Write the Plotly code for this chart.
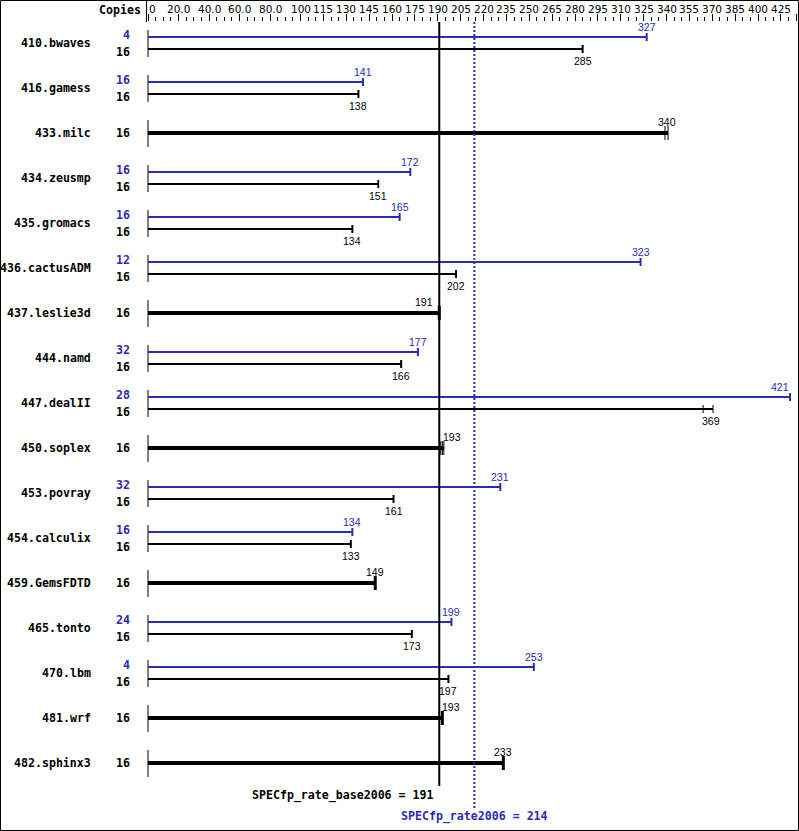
import plotly.graph_objects as go

# ---------------- data ----------------
benchmarks = ["410.bwaves", "416.gamess", "433.milc", "434.zeusmp", "435.gromacs",
              "436.cactusADM", "437.leslie3d", "444.namd", "447.dealII", "450.soplex",
              "453.povray", "454.calculix", "459.GemsFDTD", "465.tonto", "470.lbm",
              "481.wrf", "482.sphinx3"]
base_copies = [16, 16, 16, 16, 16, 16, 16, 16, 16, 16, 16, 16, 16, 16, 16, 16, 16]
base_values = [285, 138, 340, 151, 134, 202, 191, 166, 369, 193, 161, 133, 149, 173, 197, 193, 233]
peak_copies = [4, 16, None, 16, 16, 12, None, 32, 28, None, 32, 16, None, 24, 4, None, None]
peak_values = [327, 141, None, 172, 165, 323, None, 177, 421, None, 231, 134, None, 199, 253, None, None]
# individual run marks where the runs are visibly spread
base_runs = {"433.milc": [339, 341], "447.dealII": [364, 370.5], "450.soplex": [192, 193, 194]}

base_mean = 191
peak_mean = 214
base_mean_label = "SPECfp_rate_base2006 = 191"
peak_mean_label = "SPECfp_rate2006 = 214"

tick_values = [0, 20, 40, 60, 80, 100, 115, 130, 145, 160, 175, 190, 205, 220, 235, 250,
               265, 280, 295, 310, 325, 340, 355, 370, 385, 400, 425]
tick_labels = ["0", "20.0", "40.0", "60.0", "80.0", "100", "115", "130", "145", "160", "175",
               "190", "205", "220", "235", "250", "265", "280", "295", "310", "325", "340",
               "355", "370", "385", "400", "425"]
major_ticks = tick_values[:-1] + [415, 425]
minor_ticks = list(range(0, 426, 5))

# ---------------- style ----------------
BLUE = "#2b2bb3"
BLACK = "#000000"
W, H = 799, 831
ML, MR, MT, MB = 140, 2, 22, 0
PXU = 1.525            # pixels per score unit
X0PX = 148             # pixel of score 0
ROWPX = 45.0           # pixels per benchmark row
ROW0PX = 43            # pixel of first row centre
plot_h = H - MT - MB
xr0 = -(X0PX - ML) / PXU
xr1 = xr0 + (W - ML - MR) / PXU
ytop = -(ROW0PX - MT) / ROWPX
ybot = ytop + plot_h / ROWPX


def off(px):
    return px / ROWPX


MONO = "DejaVu Sans Mono"
SANS = "Liberation Sans"
label_align = {"437.leslie3d": ("right", -4), "450.soplex": ("left", -1),
               "481.wrf": ("left", -2)}

fig = go.Figure()
ann = []

px_, py_ = [], []
bx_, by_ = [], []
tx_, ty_ = [], []
wpx, wpy = [], []
wbx, wby = [], []
wtx, wty = [], []
mbx, mby = [], []
lx, ly = [], []

for i, name in enumerate(benchmarks):
    pv = peak_values[i]
    bv = base_values[i]
    runs = base_runs.get(name, [bv])
    bend = max([bv] + runs)
    multi = len(runs) > 1
    if pv is not None:
        yp = i - off(6)
        yb = i + off(6)
        px_ += [0, pv, None]; py_ += [yp, yp, None]
        wpx += [pv, pv, None]; wpy += [yp - off(4), yp + off(4), None]
        bx_ += [0, bend, None]; by_ += [yb, yb, None]
        for r in runs:
            if multi:
                mbx += [r, r, None]; mby += [yb - off(4), yb + off(4), None]
            else:
                wbx += [r, r, None]; wby += [yb - off(4), yb + off(4), None]
        lx += [0, 0, None]; ly += [i - off(13), i + off(14), None]
        ann.append(dict(x=0, xref="paper", y=i, yref="y", text=name, showarrow=False,
                        xanchor="right", yanchor="middle", xshift=93 - ML,
                        font=dict(family=MONO, size=11.6, color=BLACK, weight="bold")))
        ann.append(dict(x=0, xref="paper", y=i - off(8), yref="y", text=str(peak_copies[i]),
                        showarrow=False, xanchor="right", yanchor="middle", xshift=132 - ML,
                        font=dict(family=MONO, size=11.6, color=BLUE, weight="bold")))
        ann.append(dict(x=0, xref="paper", y=i + off(9), yref="y", text=str(base_copies[i]),
                        showarrow=False, xanchor="right", yanchor="middle", xshift=132 - ML,
                        font=dict(family=MONO, size=11.6, color=BLACK, weight="bold")))
        pa, ps = ("center", 0)
        if name == "447.dealII":
            pa, ps = ("right", 1)
        ann.append(dict(x=pv, xref="x", y=yp - off(10), yref="y", text=str(pv), showarrow=False,
                        xanchor=pa, yanchor="middle", xshift=ps,
                        font=dict(family=SANS, size=10.5, color=BLUE)))
        ann.append(dict(x=bv, xref="x", y=yb + off(12), yref="y", text=str(bv), showarrow=False,
                        xanchor="center", yanchor="middle",
                        font=dict(family=SANS, size=10.5, color=BLACK)))
    else:
        tx_ += [0, bend, None]; ty_ += [i, i, None]
        for r in runs:
            if multi:
                mbx += [r, r, None]; mby += [i - off(7), i + off(7), None]
            else:
                wtx += [r, r, None]; wty += [i - off(7), i + off(7), None]
        lx += [0, 0, None]; ly += [i - off(13), i + off(14), None]
        ann.append(dict(x=0, xref="paper", y=i, yref="y", text=name, showarrow=False,
                        xanchor="right", yanchor="middle", xshift=93 - ML,
                        font=dict(family=MONO, size=11.6, color=BLACK, weight="bold")))
        ann.append(dict(x=0, xref="paper", y=i, yref="y", text=str(base_copies[i]),
                        showarrow=False, xanchor="right", yanchor="middle", xshift=132 - ML,
                        font=dict(family=MONO, size=11.6, color=BLACK, weight="bold")))
        a, s = label_align.get(name, ("center", 0))
        ann.append(dict(x=bv, xref="x", y=i - off(11), yref="y", text=str(bv), showarrow=False,
                        xanchor=a, yanchor="middle", xshift=s,
                        font=dict(family=SANS, size=10.5, color=BLACK)))

line_traces = [
    (lx, ly, BLACK, 1),
    (px_, py_, BLUE, 2), (wpx, wpy, BLUE, 2),
    (bx_, by_, BLACK, 2), (wbx, wby, BLACK, 2),
    (tx_, ty_, BLACK, 4), (wtx, wty, BLACK, 3),
    (mbx, mby, BLACK, 1),
]
for xs, ys, c, w in line_traces:
    fig.add_trace(go.Scatter(x=xs, y=ys, mode="lines", line=dict(color=c, width=w),
                             hoverinfo="skip", showlegend=False))

# mean lines
fig.add_trace(go.Scatter(x=[peak_mean, peak_mean], y=[ytop, off(808 - ROW0PX)], mode="lines",
                         line=dict(color=BLUE, width=2, dash="2px,2px"),
                         hoverinfo="skip", showlegend=False))
fig.add_trace(go.Scatter(x=[base_mean, base_mean], y=[ytop, off(786 - ROW0PX)], mode="lines",
                         line=dict(color=BLACK, width=2), hoverinfo="skip", showlegend=False))
# minor tick axis carrier
fig.add_trace(go.Scatter(x=[0], y=[0], xaxis="x2", mode="markers", marker=dict(opacity=0),
                         hoverinfo="skip", showlegend=False))

ann.append(dict(x=base_mean, xref="x", y=off(795 - ROW0PX), yref="y", text=base_mean_label,
                showarrow=False, xanchor="right", yanchor="middle", xshift=-3,
                font=dict(family=MONO, size=11.6, color=BLACK, weight="bold")))
ann.append(dict(x=peak_mean, xref="x", y=off(816 - ROW0PX), yref="y", text=peak_mean_label,
                showarrow=False, xanchor="center", yanchor="middle",
                font=dict(family=MONO, size=11.6, color=BLUE, weight="bold")))

# header
ann.append(dict(x=0, xref="paper", y=1 + 12 / plot_h, yref="paper", text="Copies",
                showarrow=False, xanchor="right", yanchor="middle", xshift=143 - ML,
                font=dict(family=MONO, size=11.6, color=BLACK, weight="bold")))
# tick labels
for v, t in zip(tick_values, tick_labels):
    xa, xs = "center", 0
    if v == tick_values[0]:
        xa, xs = "left", -1
    elif v == tick_values[-1]:
        xa, xs = "right", -3
    ann.append(dict(x=v, xref="x", y=1 + 13 / plot_h, yref="paper", text=t, showarrow=False,
                    xanchor=xa, yanchor="middle", xshift=xs,
                    font=dict(family="DejaVu Sans", size=10.5, color=BLACK)))

shapes = [
    dict(type="line", xref="x", yref="paper", x0=-1, x1=-1, y0=1, y1=1 + MT / plot_h,
         line=dict(color=BLACK, width=1)),
    dict(type="rect", xref="paper", yref="paper",
         x0=-ML / (W - ML - MR) + 0.5 / (W - ML - MR), x1=1 + (MR - 0.5) / (W - ML - MR),
         y0=0.5 / plot_h, y1=1 + (MT - 0.5) / plot_h,
         line=dict(color=BLACK, width=1)),
]

fig.update_layout(
    width=W, height=H, margin=dict(l=ML, r=MR, t=MT, b=MB, pad=0),
    paper_bgcolor="white", plot_bgcolor="white",
    xaxis=dict(range=[xr0, xr1], side="top", tickmode="array", tickvals=major_ticks,
               ticks="outside", ticklen=7, tickwidth=1, tickcolor=BLACK,
               showticklabels=False, showgrid=False, zeroline=False, showline=False,
               automargin=False, fixedrange=True),
    xaxis2=dict(overlaying="x", matches="x", side="top", tickmode="array",
                tickvals=minor_ticks, ticks="outside", ticklen=4, tickwidth=1,
                tickcolor=BLACK, showticklabels=False, showgrid=False, zeroline=False,
                showline=False, automargin=False, range=[xr0, xr1]),
    yaxis=dict(range=[ybot, ytop], visible=False, showgrid=False, zeroline=False,
               automargin=False, fixedrange=True),
    annotations=ann, shapes=shapes, showlegend=False,
)

fig.write_html("out.html", config={"displayModeBar": False},
               post_script="document.body.style.margin='0px';document.body.style.padding='0px';")
